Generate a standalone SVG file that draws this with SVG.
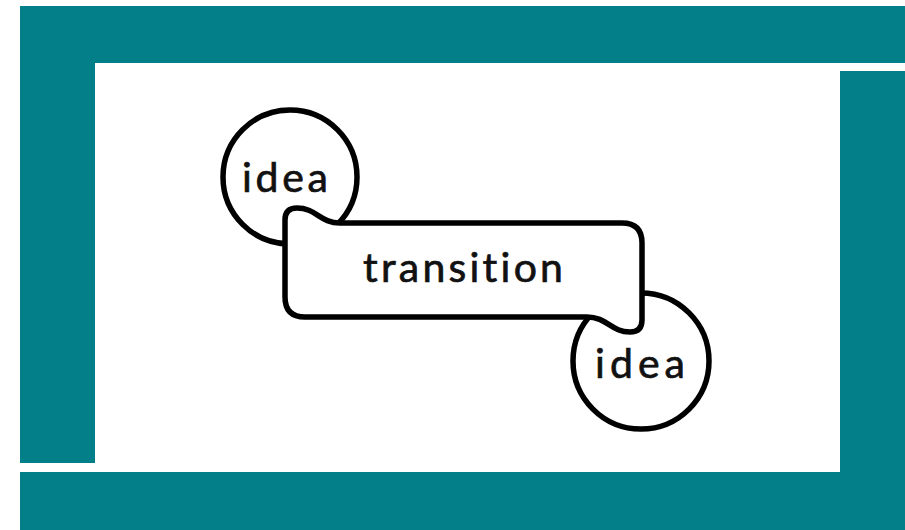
<svg xmlns="http://www.w3.org/2000/svg" width="905" height="530" viewBox="0 0 905 530">
  <style>
    .band { fill: #027f88; }
    .outline { fill: #ffffff; stroke: #000000; stroke-width: 5.5; stroke-linejoin: round; }
    .label { font-family: Lato, "Liberation Sans", sans-serif; font-size: 41px; fill: #111111; stroke: #111111; stroke-width: 0.7; text-anchor: middle; font-variant-ligatures: none; font-feature-settings: "liga" 0; }
  </style>

  <!-- page background -->
  <rect x="0" y="0" width="905" height="530" fill="#ffffff"/>

  <!-- teal frame: four bands around the white panel -->
  <g id="frame">
    <rect class="band" x="20" y="6" width="885" height="57"/>
    <rect class="band" x="20" y="6" width="75" height="457"/>
    <rect class="band" x="20" y="472" width="885" height="58"/>
    <rect class="band" x="840" y="71" width="65" height="459"/>
  </g>

  <!-- first idea bubble -->
  <g id="idea-start">
    <circle class="outline" cx="290" cy="177" r="67"/>
    <text class="label" x="285" y="192" textLength="86" lengthAdjust="spacing">idea</text>
  </g>

  <!-- second idea bubble -->
  <g id="idea-end">
    <circle class="outline" cx="641" cy="361" r="68"/>
    <text class="label" x="640" y="378" textLength="90" lengthAdjust="spacing">idea</text>
  </g>

  <!-- transition ribbon, drawn over both bubbles -->
  <g id="transition">
    <path class="outline" d="M 285,297 L 285,220 Q 285,208 297,208 C 316,208 320,223 340,223 L 622,223 Q 642,223 642,243 L 642,320 Q 642,332 630,332 C 611,332 607,317 587,317 L 305,317 Q 285,317 285,297 Z"/>
    <text class="label" x="463" y="282" textLength="200" lengthAdjust="spacing">transition</text>
  </g>
</svg>
